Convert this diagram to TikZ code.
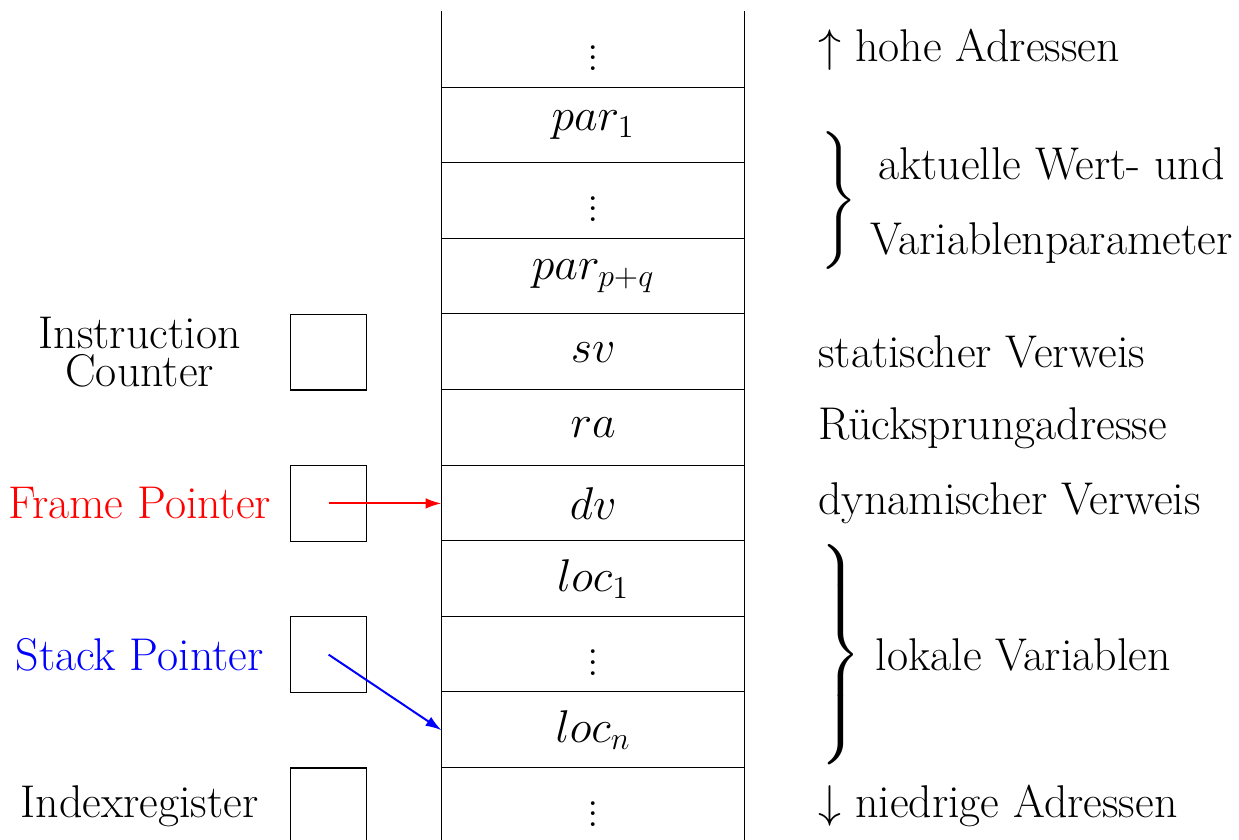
\documentclass[tikz,border=0pt]{standalone}
\usepackage{amsmath}
\usetikzlibrary{arrows.meta}
\tikzset{
  cell/.style={minimum width=4cm, minimum height=1cm, inner sep=0pt},
  reg/.style={draw, minimum size=1cm, inner sep=0pt},
  note/.style={anchor=west, inner sep=0pt},
  ptr/.style={-{Latex[length=6pt,width=4pt]}, line width=0.75pt}
}
\begin{document}
\begin{tikzpicture}[font=\LARGE]
      \useasboundingbox (-5.847,0.159) rectangle (10.542,-10.939);
      \foreach \i/\t in {0/\vdots, 1/par_1, 2/\vdots, 3/par_{p+q}, 4/sv, 5/ra,
                         6/dv, 7/loc_1, 8/\vdots, 9/loc_n, 10/\vdots}
        \node[cell] (r\i) at (2,-\i-0.5) {$\t$};
      \begin{scope}[-]
        \draw (r0.north west) to (r10.south west);
        \draw (r0.north east) to (r10.south east);
        \foreach \i in {1,...,10}
          \draw (r\i.north west) to (r\i.north east);
      \end{scope}
      \node[reg] (ic) at (-1.5,-4.5) {};
      \node[reg] (fp) at (-1.5,-6.5) {};
      \node[reg] (sp) at (-1.5,-8.5) {};
      \node[reg] (ix) at (-1.5,-10.5) {};
      \node[align=center] (icname) at (-4,-4.5) {Instruction\\[-7.7pt]Counter};
      \node[red] (fpname) at (-4,-6.5) {Frame Pointer};
      \node[blue] (spname) at (-4,-8.5) {Stack Pointer};
      \node (ixname) at (-4,-10.5) {Indexregister};
      \draw[ptr, red] (fp.center) to (r6.west);
      \draw[ptr, blue] (sp.center) to (r9.west);
      \node[note] (high) at (4.97,-0.5) {$\uparrow$ hohe Adressen};
      \node[note] (sv) at (4.97,-4.5) {statischer Verweis};
      \node[note] (ra) at (4.97,-5.5) {R\"ucksprungadresse};
      \node[note] (dv) at (4.97,-6.5) {dynamischer Verweis};
      \node[note] (low) at (4.97,-10.5) {$\downarrow$ niedrige Adressen};
      \node[inner sep=0pt] (parbrace) at (5.23,-2.5)
        {$\left.\vrule height 0.74cm depth 0.74cm width 0pt\right\}$};
      \node[align=center] (partext) at (8.06,-2.56)
        {aktuelle Wert- und\\[0.227cm]Variablenparameter};
      \node[inner sep=0pt] (locbrace) at (5.26,-8.5)
        {$\left.\vrule height 1.25cm depth 1.25cm width 0pt\right\}$};
      \node[note] (loctext) at (5.73,-8.5) {lokale Variablen};
    \end{tikzpicture}
\end{document}
